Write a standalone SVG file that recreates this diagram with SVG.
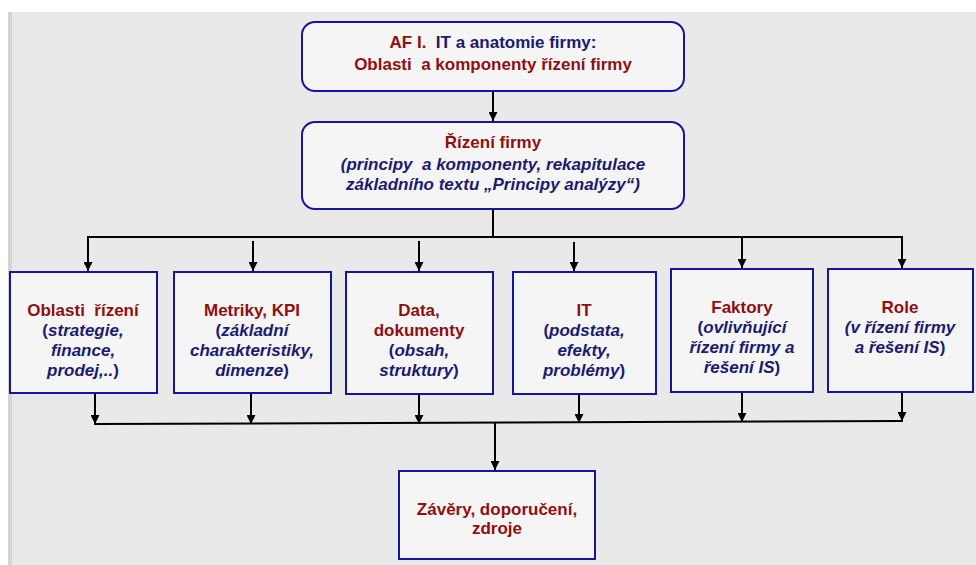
<svg xmlns="http://www.w3.org/2000/svg" width="976" height="565" viewBox="0 0 976 565">
  <style>
    .box { fill: #f5f5f5; stroke: #1515a0; stroke-width: 2; }
    .t { font-family: "Liberation Sans", Arial, sans-serif; font-size: 17px; font-weight: bold; text-anchor: middle; white-space: pre; }
    .r { fill: #8e1010; }
    .b { fill: #1b1b70; }
    .i { font-style: italic; }
    .wire { stroke: #000; stroke-width: 2; fill: none; }
    .arr { stroke: #000; stroke-width: 2; fill: none; marker-end: url(#head); }
  </style>
  <defs>
    <marker id="head" markerUnits="userSpaceOnUse" markerWidth="9" markerHeight="9" refX="9" refY="4.5" orient="auto">
      <path d="M0,0 L9,4.5 L0,9 z" fill="#000"/>
    </marker>
  </defs>

  <!-- backdrop -->
  <rect x="0" y="0" width="976" height="565" fill="#ffffff"/>
  <rect x="8" y="12" width="968" height="553" fill="#e9e9e9"/>
  <rect x="8" y="12" width="4" height="553" fill="#d4d4d4"/>

  <!-- connectors -->
  <g id="connectors">
    <line class="arr" x1="493" y1="91" x2="493" y2="121"/>
    <line class="wire" x1="493" y1="209" x2="493" y2="237"/>
    <line class="wire" x1="87" y1="237" x2="903" y2="237"/>
    <line class="arr" x1="88" y1="237" x2="88" y2="271"/>
    <line class="arr" x1="253" y1="241" x2="253" y2="271"/>
    <line class="arr" x1="419" y1="241" x2="419" y2="271"/>
    <line class="arr" x1="574" y1="242" x2="574" y2="271"/>
    <line class="arr" x1="742" y1="237" x2="742" y2="268"/>
    <line class="arr" x1="902" y1="237" x2="902" y2="268"/>

    <line class="arr" x1="95" y1="393" x2="95" y2="424"/>
    <line class="arr" x1="251" y1="394" x2="251" y2="424"/>
    <line class="arr" x1="419" y1="394" x2="419" y2="424"/>
    <line class="arr" x1="579" y1="394" x2="579" y2="423"/>
    <line class="arr" x1="742" y1="392" x2="742" y2="422"/>
    <line class="arr" x1="902" y1="392" x2="902" y2="421"/>
    <line class="wire" x1="94" y1="424" x2="903" y2="421"/>
    <line class="arr" x1="495" y1="423" x2="495" y2="470"/>
  </g>

  <!-- title -->
  <g id="title">
    <rect class="box" x="302" y="22" width="382" height="69" rx="13"/>
    <text class="t" x="493" y="48"><tspan class="r">AF I.  </tspan><tspan class="b">IT a anatomie firmy:</tspan></text>
    <text class="t r" x="493" y="70">Oblasti  a komponenty řízení firmy</text>
  </g>

  <!-- management -->
  <g id="rizeni">
    <rect class="box" x="302" y="122" width="382" height="87" rx="13"/>
    <text class="t r" x="493" y="148">Řízení firmy</text>
    <text class="t b i" x="493" y="170">(principy  a komponenty, rekapitulace</text>
    <text class="t b i" x="493" y="190">základního textu „Principy analýzy“)</text>
  </g>

  <g id="oblasti">
    <rect class="box" x="10" y="272" width="147" height="121"/>
    <text class="t r" x="83" y="316">Oblasti  řízení</text>
    <text class="t b" x="83" y="336">(<tspan class="i">strategie,</tspan></text>
    <text class="t b i" x="83" y="356">finance,</text>
    <text class="t b" x="83" y="376"><tspan class="i">prodej,..</tspan>)</text>
  </g>

  <g id="metriky">
    <rect class="box" x="174" y="272" width="157" height="121"/>
    <text class="t r" x="252" y="316">Metriky, KPI</text>
    <text class="t b" x="252" y="336">(<tspan class="i">základní</tspan></text>
    <text class="t b i" x="252" y="356">charakteristiky,</text>
    <text class="t b" x="252" y="376"><tspan class="i">dimenze</tspan>)</text>
  </g>

  <g id="data">
    <rect class="box" x="346" y="272" width="147" height="122"/>
    <text class="t r" x="419" y="316">Data,</text>
    <text class="t r" x="419" y="336">dokumenty</text>
    <text class="t b" x="419" y="356">(<tspan class="i">obsah,</tspan></text>
    <text class="t b" x="419" y="376"><tspan class="i">struktury</tspan>)</text>
  </g>

  <g id="it">
    <rect class="box" x="513" y="272" width="143" height="122"/>
    <text class="t r" x="584" y="316">IT</text>
    <text class="t b" x="584" y="336">(<tspan class="i">podstata,</tspan></text>
    <text class="t b i" x="584" y="356">efekty,</text>
    <text class="t b" x="584" y="376"><tspan class="i">problémy</tspan>)</text>
  </g>

  <g id="faktory">
    <rect class="box" x="671" y="269" width="142" height="123"/>
    <text class="t r" x="742" y="313">Faktory</text>
    <text class="t b" x="742" y="333">(<tspan class="i">ovlivňující</tspan></text>
    <text class="t b i" x="742" y="353">řízení firmy a</text>
    <text class="t b" x="742" y="373"><tspan class="i">řešení IS</tspan>)</text>
  </g>

  <g id="role">
    <rect class="box" x="828" y="269" width="145" height="123"/>
    <text class="t r" x="900" y="313">Role</text>
    <text class="t b i" x="900" y="333">(v řízení firmy</text>
    <text class="t b" x="900" y="353"><tspan class="i">a řešení IS</tspan>)</text>
  </g>

  <g id="zavery">
    <rect class="box" x="399" y="471" width="196" height="88"/>
    <text class="t r" x="497" y="515">Závěry, doporučení,</text>
    <text class="t r" x="497" y="534">zdroje</text>
  </g>
</svg>
